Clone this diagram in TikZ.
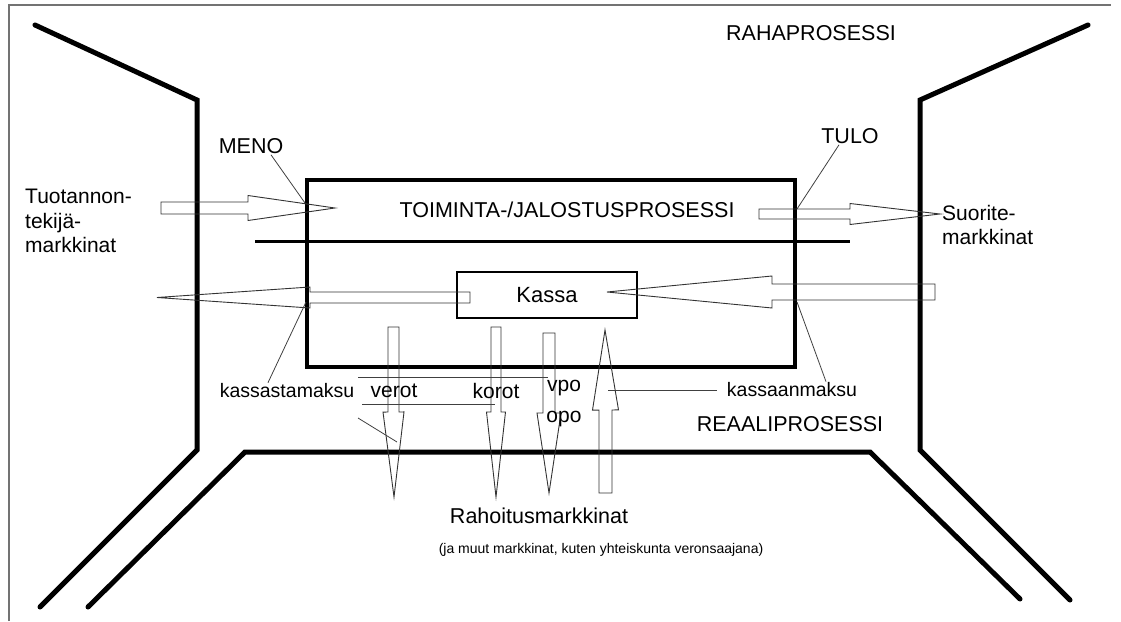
\documentclass[tikz,border=0pt]{standalone}
\usepackage{fontspec}
\setmainfont{Liberation Sans}
\usetikzlibrary{calc}

\newcommand{\blockarrow}[5]{%
  \draw[blk] ($(#1)!#4!90:(#3)$) -- ($(#2)!#4!90:(#3)$) -- ($(#2)!#5!90:(#3)$)
    -- (#3) -- ($(#2)!#5!-90:(#3)$) -- ($(#2)!#4!-90:(#3)$)
    -- ($(#1)!#4!-90:(#3)$) -- cycle;}

\begin{document}
\begin{tikzpicture}[
  x=1pt, y=-1pt,
  font=\fontsize{21}{24.5}\selectfont,
  wall/.style={line width=5pt, line cap=round, line join=miter},
  frm/.style={black!55, line width=1.2pt},
  box/.style={draw, line width=4pt},
  kbox/.style={draw, line width=2.6pt, minimum width=180pt, minimum height=46pt},
  blk/.style={draw=black!80, line width=0.9pt, line join=miter},
  ldr/.style={draw=black!75, line width=0.8pt},
  lbl/.style={inner sep=1pt},
  caps/.style={lbl, font=\fontsize{21.5}{24.5}\selectfont},
  lower/.style={lbl, font=\fontsize{19.5}{23}\selectfont},
  small/.style={lbl, font=\fontsize{14}{17}\selectfont}
]
\useasboundingbox (0,0) rectangle (1121,621);
\draw[frm] (9,621) -- (9,5) -- (1111,5);
\draw[wall] (35,25) -- (197,100) -- (197,450) -- (40,607);
\draw[wall] (88,607) -- (245,452) -- (870,452) -- (1020,599);
\draw[wall] (1088,25) -- (920,100) -- (920,450) -- (1070,600);
\draw[box] (307,180) rectangle (795,367);
\draw[line width=3pt] (255,241) -- (850,241);
\node[kbox, font=\fontsize{22}{24}\selectfont] (kassa) at (547,295) {Kassa};
\coordinate (a1s) at (161,208); \coordinate (a1b) at (248,208); \coordinate (a1t) at (335,208);
\coordinate (a2s) at (759,214); \coordinate (a2b) at (850,214); \coordinate (a2t) at (940,214);
\coordinate (a3s) at (470,297.5); \coordinate (a3b) at (310,297.5); \coordinate (a3t) at (157,297.5);
\coordinate (a4s) at (935,292); \coordinate (a4b) at (772,292); \coordinate (a4t) at (607,292);
\coordinate (vrs) at (393.5,327); \coordinate (vrb) at (393.5,412); \coordinate (vrt) at (394,497);
\coordinate (krs) at (496,327); \coordinate (krb) at (496,412); \coordinate (krt) at (496,497);
\coordinate (vps) at (549,333); \coordinate (vpb) at (549,413); \coordinate (vpt) at (549,493);
\coordinate (ups) at (605.5,493); \coordinate (upb) at (605.5,410); \coordinate (upt) at (605,330);
\blockarrow{a1s}{a1b}{a1t}{6pt}{12.5pt}
\blockarrow{a2s}{a2b}{a2t}{5pt}{10.5pt}
\blockarrow{a3s}{a3b}{a3t}{5.5pt}{10.5pt}
\blockarrow{a4s}{a4b}{a4t}{8pt}{16pt}
\blockarrow{vrs}{vrb}{vrt}{5.5pt}{10.5pt}
\blockarrow{krs}{krb}{krt}{5pt}{9.5pt}
\blockarrow{vps}{vpb}{vpt}{6pt}{12pt}
\blockarrow{ups}{upb}{upt}{6.5pt}{13pt}
\node[caps] (raha) at (811,33) {RAHAPROSESSI};
\node[caps] (meno) at (251,146) {MENO};
\node[caps] (tulo) at (850,136) {TULO};
\node[caps] (toim) at (567,210) {TOIMINTA-/JALOSTUSPROSESSI};
\node[lbl, anchor=west, align=left] (tuot) at (24,221) {Tuotannon-\\tekijä-\\markkinat};
\node[lbl, anchor=west, align=left] (suor) at (941,225) {Suorite-\\markkinat};
\node[lower] (kstm) at (287,391) {kassastamaksu};
\node[lbl] (verot) at (394,391) {verot};
\node[lbl] (korot) at (496,391) {korot};
\node[lbl] (vpo) at (564,388) {vpo};
\node[lbl] (opo) at (564,419) {opo};
\node[lower] (kanm) at (792,390) {kassaanmaksu};
\node[caps] (reaali) at (790,424) {REAALIPROSESSI};
\node[caps] (rahoit) at (539,516) {Rahoitusmarkkinat};
\node[small] (muut) at (601,550) {(ja muut markkinat, kuten yhteiskunta veronsaajana)};
\coordinate (menop) at (305,203);
\coordinate (tulop) at (797,209);
\coordinate (kstmp) at (306,302);
\coordinate (kanmp) at (797,302);
\coordinate (upp) at (608,390);
\draw[ldr] ([xshift=20pt]meno.south) -- (menop);
\draw[ldr] ([xshift=-11pt]tulo.south) -- (tulop);
\draw[ldr] ([xshift=-19pt]kstm.north) -- (kstmp);
\draw[ldr] ([xshift=34pt]kanm.north) -- (kanmp);
\draw[ldr] ([xshift=-9pt]kanm.west) -- (upp);
\draw[ldr] (358,377) -- (548,377);
\draw[ldr] (362,404) -- (495,404);
\draw[ldr] (358,418) -- (397,442);
\end{tikzpicture}
\end{document}
